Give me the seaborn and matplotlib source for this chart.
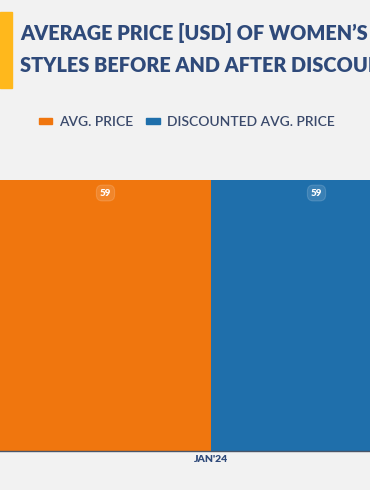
import matplotlib
matplotlib.use("Agg")
import matplotlib.pyplot as plt
import matplotlib.patches as mpatches
import seaborn as sns
import pandas as pd

categories = ["JAN'24"]
series_names = ["AVG. PRICE", "DISCOUNTED AVG. PRICE"]
avg_price = [59]
discounted_avg_price = [59]
colors = ["#f0760e", "#1f6fab"]

df = pd.DataFrame({
    "month": categories * 2,
    "series": [series_names[0]] * len(categories) + [series_names[1]] * len(categories),
    "value": avg_price + discounted_avg_price,
})

sns.set_theme(style="white")
plt.rcParams['font.family'] = ['Lato', 'DejaVu Sans']

bg = "#f2f2f2"
fig = plt.figure(figsize=(3.7, 4.9), dpi=100, facecolor=bg)
ax = fig.add_axes([0, 39 / 490, 1, (451 - 180) / 490])
ax.set_facecolor(bg)

sns.barplot(data=df, x="month", y="value", hue="series", palette=colors,
            width=0.8, gap=0, ax=ax, legend=False, saturation=1,
            linewidth=0, edgecolor="none")

ax.set_xlim(-0.4, -0.4 + 370 / 211 * 0.4)
ax.set_ylim(0, 59)
for s in ["top", "right", "left"]:
    ax.spines[s].set_visible(False)
ax.spines["bottom"].set_color("#4a5568")
ax.spines["bottom"].set_linewidth(1.0)
ax.set_yticks([])
ax.set_xlabel("")
ax.set_ylabel("")
ax.tick_params(axis="x", length=0, pad=3)
for lbl in ax.get_xticklabels():
    lbl.set_fontsize(7.5)
    lbl.set_fontweight("heavy")
    lbl.set_color("#2f4a7a")

for cont in ax.containers:
    for bar in cont:
        h = bar.get_height()
        ax.text(bar.get_x() + bar.get_width() / 2, h - 59 * 0.048, f"{int(h)}",
                ha="center", va="center", fontsize=7, fontweight="heavy",
                color="white",
                bbox=dict(boxstyle="round,pad=0.35,rounding_size=0.6",
                          fc=(1, 1, 1, 0.12), ec=(1, 1, 1, 0.15), lw=0.8))

# Title with yellow accent
fig.patches.append(mpatches.Rectangle((0, 1 - 88 / 490), 12 / 370, 76 / 490,
                                      transform=fig.transFigure, color="#ffb81c"))
fig.text(20 / 370, 1 - 33 / 490, "AVERAGE PRICE [USD] OF WOMEN\u2019S STYLES",
         fontsize=14.3, fontweight="heavy", color="#2f4a7a", va="center", ha="left")
fig.text(20 / 370, 1 - 65 / 490, "STYLES BEFORE AND AFTER DISCOUNTS",
         fontsize=14.3, fontweight="heavy", color="#2f4a7a", va="center", ha="left")

# Legend
handles = [mpatches.Patch(color=c, label=n) for c, n in zip(colors, series_names)]
leg = fig.legend(handles=handles, loc="center left",
                 bbox_to_anchor=(26 / 370, 1 - 122 / 490), ncol=2, frameon=False,
                 handlelength=1.0, handleheight=0.3, handletextpad=0.5,
                 columnspacing=0.9, prop={"size": 10, "weight": "semibold"})
for t in leg.get_texts():
    t.set_color("#3b4a6b")

fig.savefig("out.png", dpi=100, facecolor=bg)
